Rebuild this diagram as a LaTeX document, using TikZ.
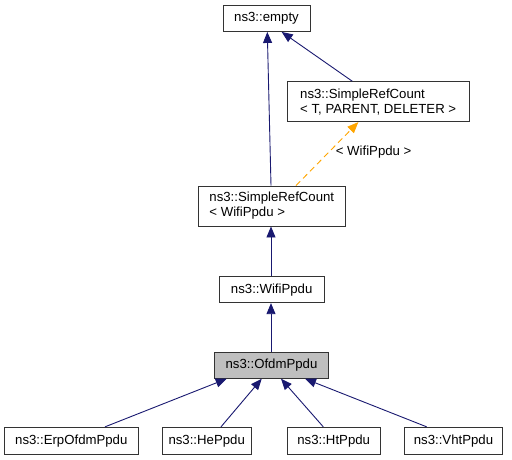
\documentclass[tikz,border=0pt]{standalone}
\usepackage{fontspec}
\setmainfont{Liberation Sans}
\usetikzlibrary{arrows.meta}
\definecolor{edgeblue}{HTML}{191970}
\definecolor{boxgray}{HTML}{BFBFBF}
\definecolor{tmplorange}{HTML}{FFA500}
\tikzset{
  cls/.style={draw=black!80, line width=0.9pt, fill=white, inner sep=0pt, align=left,
    font=\fontsize{13.2}{15}\selectfont, minimum height=26pt},
  inh/.style={draw=edgeblue, line width=0.9pt, -{Triangle[length=11pt,width=9pt]}},
  tmpl/.style={draw=tmplorange, line width=0.9pt, dash pattern=on 6pt off 4pt, -{Triangle[length=11pt,width=9pt]}},
  lbl/.style={font=\fontsize{13.2}{15}\selectfont, inner sep=0pt}
}
\begin{document}
\begin{tikzpicture}[x=1pt,y=-1pt]
\useasboundingbox (0,0) rectangle (512,460);
\node[cls, minimum width=87pt] (empty) at (266.5,18.5) {ns3::empty};
\node[cls, minimum width=181.7pt, minimum height=40pt] (srcT) at (378.2,101.7) {ns3::SimpleRefCount\\< T, PARENT, DELETER >};
\node[cls, minimum width=147pt, minimum height=40pt] (srcW) at (271.8,206) {ns3::SimpleRefCount\\< WifiPpdu >};
\node[cls, minimum width=104.7pt] (wifi) at (271.7,289.7) {ns3::WifiPpdu};
\node[cls, minimum width=114.4pt, fill=boxgray] (ofdm) at (271.5,365.3) {ns3::OfdmPpdu};
\node[cls, minimum width=134.7pt, minimum height=27pt] (erp) at (71.3,440.8) {ns3::ErpOfdmPpdu};
\node[cls, minimum width=88.7pt, minimum height=27pt] (he) at (206.7,440.8) {ns3::HePpdu};
\node[cls, minimum width=92.7pt, minimum height=27pt] (ht) at (333.7,440.8) {ns3::HtPpdu};
\node[cls, minimum width=98.4pt, minimum height=27pt] (vht) at (453.5,440.8) {ns3::VhtPpdu};

\draw[inh] ([xshift=-0.8pt]srcW.north) -- ([xshift=0.8pt]empty.south);
\draw[inh] ([xshift=-25.9pt]srcT.north) -- ([xshift=15.2pt]empty.south);
\draw[tmpl] ([xshift=24.2pt]srcW.north) -- node[lbl, anchor=west, pos=0.52, xshift=7pt] (tl) {< WifiPpdu >} ([xshift=-19.9pt]srcT.south);
\draw[inh] ([xshift=-0.7pt]wifi.north) -- ([xshift=-0.8pt]srcW.south);
\draw[inh] ([xshift=-0.5pt]ofdm.north) -- ([xshift=-0.7pt]wifi.south);
\draw[inh] ([xshift=33.7pt]erp.north) -- ([xshift=-44.8pt]ofdm.south);
\draw[inh] ([xshift=14.3pt]he.north) -- ([xshift=-9.8pt]ofdm.south);
\draw[inh] ([xshift=-10.4pt]ht.north) -- ([xshift=9.5pt]ofdm.south);
\draw[inh] ([xshift=-26.8pt]vht.north) -- ([xshift=33.5pt]ofdm.south);
\end{tikzpicture}
\end{document}
